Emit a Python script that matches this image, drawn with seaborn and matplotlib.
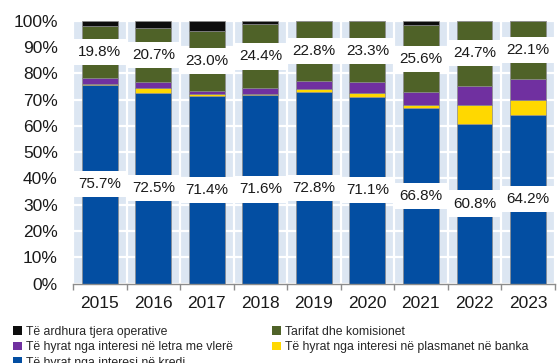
import numpy as np
import pandas as pd
import seaborn as sns
import matplotlib
matplotlib.use("Agg")
import matplotlib.pyplot as plt
from matplotlib.patches import Patch

years = ["2015", "2016", "2017", "2018", "2019", "2020", "2021", "2022", "2023"]
kredi = [75.7, 72.5, 71.4, 71.6, 72.8, 71.1, 66.8, 60.8, 64.2]
banka = [0.4, 1.7, 0.8, 0.6, 1.2, 1.5, 1.0, 7.2, 5.5]
letra = [2.2, 2.3, 0.9, 2.0, 3.2, 4.1, 4.9, 7.3, 8.2]
tarifat = [19.8, 20.7, 23.0, 24.4, 22.8, 23.3, 25.6, 24.7, 22.1]
tjera = [1.9, 2.8, 3.9, 1.4, 0.0, 0.0, 1.7, 0.0, 0.0]

series_names = [
    "Të hyrat nga interesi në kredi",
    "Të hyrat nga interesi në plasmanet në banka",
    "Të hyrat nga interesi në letra me vlerë",
    "Tarifat dhe komisionet",
    "Të ardhura tjera operative",
]
series_values = [kredi, banka, letra, tarifat, tjera]
colors = ["#034ea2", "#ffd800", "#7030a0", "#4f6228", "#0d0d0d"]

sns.set_theme(style="white")
plt.rcParams["font.family"] = ["Liberation Sans", "DejaVu Sans"]

fig = plt.figure(figsize=(5.57, 3.63), dpi=100)
ax = fig.add_axes([0.131, 0.219, 0.865, 0.724])
ax.set_facecolor("#dce6f2")

df = pd.DataFrame({"year": years})
bottom = np.zeros(len(years))
for name, vals, col in zip(series_names, series_values, colors):
    df[name] = vals
    sns.barplot(data=df, x="year", y=name, color=col, width=0.67,
                bottom=bottom.copy(), ax=ax, edgecolor="#8c8c8c",
                linewidth=0.5, saturation=1, order=years)
    bottom = bottom + np.array(vals)

# value labels at the middle of the loan and fee segments
kredi_arr = np.array(kredi)
fee_base = kredi_arr + np.array(banka) + np.array(letra)
for i in range(len(years)):
    for val, base in ((kredi[i], 0.0), (tarifat[i], fee_base[i])):
        ax.text(i, base + val / 2, f"{val:.1f}%", ha="center", va="center",
                fontsize=11, color="#1a1a1a", zorder=5,
                bbox=dict(boxstyle="square,pad=0.4", fc="white", ec="none"))

ax.set_xlim(-0.5, len(years) - 0.5)
ax.set_ylim(0, 100)
ax.set_yticks(np.arange(0, 101, 10))
ax.set_yticklabels([f"{v}%" for v in range(0, 101, 10)])
ax.set_xticks(range(len(years)))
ax.set_xticks(np.arange(-0.5, len(years), 1.0), minor=True)
ax.set_xlabel("")
ax.set_ylabel("")

ax.grid(axis="y", which="major", color="white", linewidth=1.6)
ax.grid(axis="x", which="minor", color="white", linewidth=1.6)
ax.set_axisbelow(True)

for s in ("top", "right", "left"):
    ax.spines[s].set_visible(False)
ax.spines["bottom"].set_color("#8c8c8c")
ax.spines["bottom"].set_linewidth(1.0)

ax.tick_params(axis="y", which="both", length=0, pad=11, labelsize=12.5,
               labelcolor="#1a1a1a")
ax.tick_params(axis="x", which="major", length=0, pad=9, labelsize=12.5,
               labelcolor="#1a1a1a")
ax.tick_params(axis="x", which="minor", length=4, width=1.0,
               color="#8c8c8c", direction="out", bottom=True)

handle_order = [4, 2, 0, 3, 1]
handles = [Patch(facecolor=colors[k], edgecolor="none") for k in handle_order]
labels = [series_names[k] for k in handle_order]
fig.legend(handles, labels, loc="upper left",
           bbox_to_anchor=(0.024, 1 - 326 / 363), ncol=2, frameon=False,
           fontsize=8.8, handlelength=0.7, handleheight=0.7,
           handletextpad=0.35, columnspacing=3.2, labelspacing=0.28,
           borderaxespad=0, borderpad=0)

fig.savefig("out.png", dpi=100)
